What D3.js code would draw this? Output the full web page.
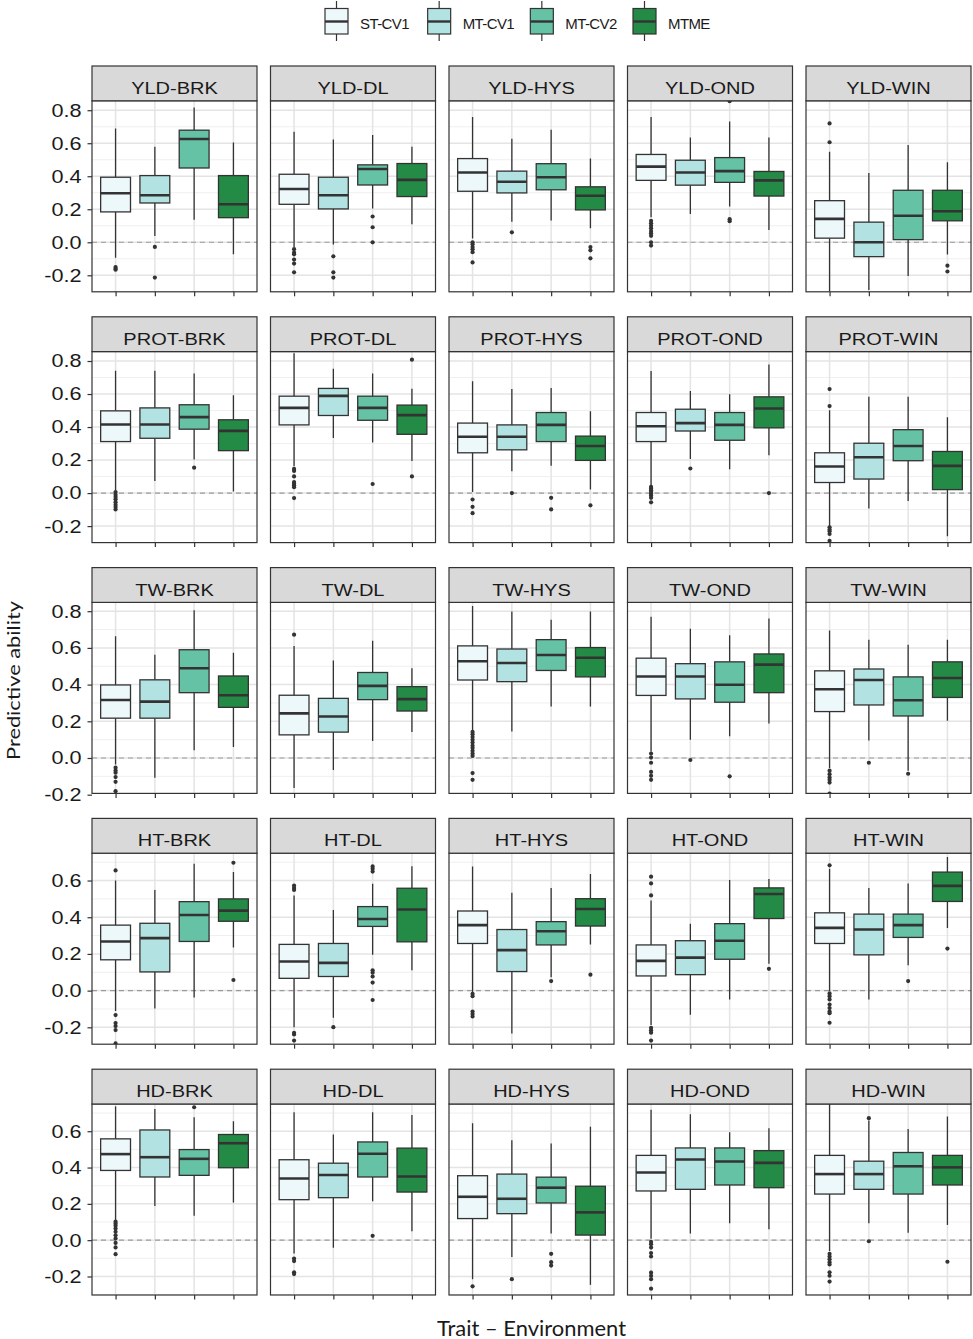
<!DOCTYPE html>
<html><head><meta charset="utf-8">
<script src="https://cdn.jsdelivr.net/npm/d3@7/dist/d3.min.js"></script>
<style>body{margin:0;background:#fff}svg{display:block}</style>
</head><body>
<svg id="chart" width="973" height="1339"></svg>
<script>
// ---------------- DATA ----------------
const traits = ["YLD", "PROT", "TW", "HT", "HD"];
const envs = ["BRK", "DL", "HYS", "OND", "WIN"];
const methods = ["ST-CV1", "MT-CV1", "MT-CV2", "MTME"];
const methodColors = ["#edf8fb", "#b2e2e2", "#66c2a4", "#238b45"];
const yTicksWide = [-0.2, 0.0, 0.2, 0.4, 0.6, 0.8];
const yTicksNarrow = [-0.2, 0.0, 0.2, 0.4, 0.6];
const yLimits = [[-0.30, 0.857], [-0.30, 0.857], [-0.193, 0.848], [-0.292, 0.749], [-0.302, 0.750]];
const xTitle = "Trait \u2013 Environment";
const yTitle = "Predictive ability";

// each: per environment, per method: [lower whisker, Q1, median, Q3, upper whisker]
const yldStats = [
  [[-0.093,0.184,0.297,0.394,0.689],[0.038,0.238,0.285,0.404,0.578],[0.137,0.45,0.626,0.679,0.816],[-0.073,0.149,0.23,0.404,0.604]],
  [[-0.028,0.23,0.323,0.412,0.669],[-0.014,0.202,0.285,0.394,0.622],[0.204,0.347,0.444,0.469,0.65],[0.109,0.277,0.378,0.477,0.578]],
  [[0.023,0.309,0.423,0.507,0.759],[0.124,0.299,0.367,0.431,0.627],[0.132,0.318,0.394,0.476,0.682],[0.085,0.196,0.282,0.336,0.507]],
  [[0.151,0.375,0.458,0.532,0.759],[0.171,0.346,0.423,0.497,0.635],[0.216,0.363,0.431,0.513,0.732],[0.074,0.28,0.375,0.429,0.635]],
  [[-0.297,0.025,0.142,0.252,0.548],[-0.289,-0.087,0.0,0.122,0.419],[-0.204,0.016,0.161,0.315,0.59],[-0.074,0.13,0.188,0.315,0.485]]
];
const yldOutliers = [
  [[-0.15,-0.16,-0.166],[-0.028,-0.214],[],[]],
  [[-0.042,-0.063,-0.073,-0.105,-0.129,-0.182],[-0.085,-0.182,-0.214],[0.156,0.091,0.0],[]],
  [[0.0,-0.012,-0.029,-0.043,-0.06,-0.122],[0.06],[],[-0.029,-0.049,-0.097]],
  [[0.13,0.115,0.1,0.085,0.068,0.054,0.039,0.0,-0.02],[],[0.14,0.128,0.855],[]],
  [[0.72,0.606],[],[],[-0.142,-0.177]]
];
const protStats = [
  [[0.016,0.312,0.415,0.498,0.741],[0.073,0.332,0.415,0.516,0.741],[0.203,0.387,0.46,0.535,0.725],[0.01,0.257,0.377,0.444,0.593]],
  [[0.162,0.413,0.516,0.587,0.847],[0.334,0.47,0.589,0.634,0.753],[0.306,0.441,0.516,0.587,0.725],[0.194,0.356,0.472,0.533,0.632]],
  [[0.006,0.244,0.341,0.424,0.678],[0.132,0.262,0.341,0.413,0.63],[0.165,0.312,0.413,0.488,0.636],[0.021,0.198,0.285,0.345,0.496]],
  [[0.043,0.312,0.405,0.488,0.74],[0.207,0.376,0.424,0.508,0.618],[0.145,0.32,0.413,0.488,0.599],[0.229,0.395,0.512,0.583,0.779]],
  [[-0.2,0.064,0.161,0.244,0.502],[-0.093,0.085,0.217,0.302,0.583],[-0.048,0.196,0.285,0.384,0.583],[-0.262,0.021,0.165,0.252,0.459]]
];
const protOutliers = [
  [[0.006,-0.01,-0.024,-0.038,-0.055,-0.071,-0.085,-0.099],[],[0.154],[]],
  [[0.146,0.134,0.101,0.067,0.057,0.047,0.036,-0.03],[],[0.055],[0.808,0.101]],
  [[-0.039,-0.083,-0.122],[0.0],[-0.029,-0.099],[-0.074]],
  [[0.037,0.027,0.017,0.006,-0.004,-0.014,-0.029,-0.056],[0.149],[],[0.0]],
  [[0.63,0.527,-0.207,-0.221,-0.231,-0.248,-0.289],[],[],[]]
];
const twStats = [
  [[-0.035,0.217,0.316,0.398,0.663],[-0.108,0.217,0.307,0.426,0.563],[0.042,0.356,0.489,0.59,0.805],[0.06,0.276,0.342,0.447,0.574]],
  [[-0.163,0.126,0.243,0.342,0.61],[-0.066,0.141,0.226,0.325,0.532],[0.093,0.318,0.393,0.466,0.639],[0.141,0.256,0.321,0.389,0.489]],
  [[0.15,0.425,0.527,0.611,0.829],[0.145,0.416,0.518,0.594,0.798],[0.281,0.477,0.561,0.645,0.753],[0.281,0.442,0.546,0.602,0.798]],
  [[0.035,0.341,0.444,0.544,0.77],[0.1,0.322,0.444,0.514,0.704],[0.119,0.304,0.399,0.524,0.669],[0.188,0.356,0.509,0.567,0.76]],
  [[-0.055,0.253,0.375,0.475,0.695],[0.095,0.289,0.425,0.485,0.645],[-0.069,0.229,0.315,0.442,0.617],[0.203,0.33,0.436,0.524,0.645]]
];
const twOutliers = [
  [[-0.053,-0.068,-0.08,-0.104,-0.13,-0.181],[],[],[]],
  [[0.672],[],[],[]],
  [[0.142,0.129,0.114,0.099,0.084,0.067,0.054,0.039,0.024,0.011,-0.082,-0.119],[],[],[]],
  [[0.024,0.002,-0.026,-0.076,-0.097,-0.119],[-0.011],[-0.1],[]],
  [[-0.069,-0.088,-0.106,-0.119,-0.134,-0.194],[-0.026],[-0.086],[]]
];
const htStats = [
  [[-0.111,0.168,0.268,0.357,0.6],[-0.097,0.102,0.286,0.367,0.549],[-0.038,0.268,0.412,0.485,0.691],[0.235,0.378,0.436,0.5,0.646]],
  [[-0.199,0.067,0.159,0.252,0.518],[-0.148,0.077,0.151,0.257,0.44],[0.195,0.35,0.39,0.458,0.582],[0.111,0.266,0.442,0.558,0.678]],
  [[-0.011,0.257,0.357,0.434,0.677],[-0.234,0.104,0.221,0.333,0.534],[0.073,0.249,0.324,0.376,0.56],[0.251,0.352,0.445,0.501,0.636]],
  [[-0.188,0.08,0.162,0.249,0.491],[-0.132,0.087,0.18,0.272,0.365],[-0.048,0.171,0.272,0.365,0.603],[0.147,0.393,0.527,0.56,0.608]],
  [[-0.002,0.257,0.342,0.424,0.664],[-0.048,0.195,0.333,0.417,0.56],[0.138,0.29,0.357,0.417,0.584],[0.342,0.486,0.571,0.646,0.728]]
];
const htOutliers = [
  [[0.655,-0.133,-0.177,-0.193,-0.215,-0.288],[],[],[0.697,0.058]],
  [[0.573,0.56,0.549,-0.23,-0.239,-0.272],[-0.199],[0.677,0.664,0.649,0.111,0.098,0.077,0.044,-0.051],[]],
  [[-0.017,-0.03,-0.114,-0.128,-0.141],[],[0.052],[0.087]],
  [[0.621,0.584,0.519,-0.203,-0.216,-0.229,-0.272],[],[],[0.119]],
  [[0.683,-0.015,-0.03,-0.048,-0.076,-0.095,-0.114,-0.123,-0.175],[],[0.052],[0.229]]
];
const hdStats = [
  [[0.11,0.384,0.474,0.558,0.737],[0.188,0.348,0.457,0.607,0.723],[0.134,0.357,0.448,0.499,0.677],[0.207,0.399,0.534,0.582,0.655]],
  [[-0.073,0.223,0.34,0.443,0.704],[-0.042,0.234,0.359,0.424,0.582],[0.214,0.348,0.476,0.541,0.704],[0.049,0.265,0.351,0.507,0.69]],
  [[-0.215,0.119,0.239,0.355,0.644],[-0.093,0.146,0.228,0.364,0.551],[0.037,0.205,0.289,0.347,0.532],[-0.246,0.028,0.153,0.297,0.625]],
  [[0.008,0.271,0.373,0.467,0.719],[0.037,0.28,0.444,0.508,0.694],[0.093,0.304,0.433,0.508,0.594],[0.06,0.289,0.426,0.493,0.616]],
  [[-0.06,0.254,0.364,0.467,0.752],[0.093,0.28,0.364,0.435,0.659],[0.041,0.254,0.407,0.483,0.612],[0.084,0.304,0.401,0.467,0.681]]
];
const hdOutliers = [
  [[0.102,0.091,0.079,0.064,0.046,0.027,0.009,-0.015,-0.04,-0.077],[],[0.732],[]],
  [[-0.101,-0.115,-0.177,-0.187],[],[0.024],[]],
  [[-0.254],[-0.215],[-0.075,-0.121,-0.14],[]],
  [[-0.009,-0.022,-0.041,-0.071,-0.09,-0.179,-0.196,-0.215,-0.267],[],[],[]],
  [[-0.075,-0.09,-0.105,-0.121,-0.134,-0.177,-0.196,-0.228],[0.672,-0.006],[],[-0.119]]
];

// ---------------- LAYOUT ----------------
const statsByTrait = [yldStats, protStats, twStats, htStats, hdStats];
const outliersByTrait = [yldOutliers, protOutliers, twOutliers, htOutliers, hdOutliers];

const LEFT = 92, PW = 165, PSTEP = 178.5;
const TOP = 66, RSTEP = 250.8, SH = 34.8, PH = 191;
const INK = "#333333";
const SANS = "'Liberation Sans', Arial, sans-serif";
const TITLE_FONT = "Lato, 'Open Sans', sans-serif";

const svg = d3.select("#chart");

function stretch(sel, factor) {
  sel.each(function () {
    const len = this.getComputedTextLength();
    d3.select(this).attr("textLength", len * factor).attr("lengthAdjust", "spacingAndGlyphs");
  });
}

const fmt = d => d.toFixed(1);

traits.forEach((trait, r) => {
  const sTop = TOP + r * RSTEP;
  const pTop = sTop + SH;
  const pBot = pTop + PH;
  const y = d3.scaleLinear().domain(yLimits[r]).range([pBot, pTop]);
  const majors = r < 3 ? yTicksWide : yTicksNarrow;
  const minors = [];
  for (let i = 0; i < majors.length - 1; i++) minors.push((majors[i] + majors[i + 1]) / 2);
  minors.push(majors[0] - 0.1, majors[majors.length - 1] + 0.1);
  const visMinors = minors.filter(v => v >= yLimits[r][0] - 1e-9 && v <= yLimits[r][1]);

  envs.forEach((env, c) => {
    const pLeft = LEFT + c * PSTEP;
    const x = d3.scalePoint().domain(methods).range([pLeft, pLeft + PW]).padding(0.6);
    const step = x.step();
    const bw = step * 0.76;
    const g = svg.append("g");
    const clipId = `clip-${r}-${c}`;
    g.append("clipPath").attr("id", clipId).append("rect")
      .attr("x", pLeft).attr("y", pTop).attr("width", PW).attr("height", PH);

    g.append("rect").attr("x", pLeft).attr("y", pTop).attr("width", PW).attr("height", PH).attr("fill", "#fff");
    const grid = g.append("g").attr("clip-path", `url(#${clipId})`);
    grid.selectAll(".minor").data(visMinors).join("line")
      .attr("x1", pLeft).attr("x2", pLeft + PW)
      .attr("y1", d => y(d)).attr("y2", d => y(d))
      .attr("stroke", "#ebebeb").attr("stroke-width", 0.8);
    grid.selectAll(".major").data(majors).join("line")
      .attr("x1", pLeft).attr("x2", pLeft + PW)
      .attr("y1", d => y(d)).attr("y2", d => y(d))
      .attr("stroke", "#e4e4e4").attr("stroke-width", 1.5);
    grid.selectAll(".vmajor").data(methods).join("line")
      .attr("x1", d => x(d)).attr("x2", d => x(d))
      .attr("y1", pTop).attr("y2", pBot)
      .attr("stroke", "#e4e4e4").attr("stroke-width", 1.5);
    grid.append("line").attr("x1", pLeft).attr("x2", pLeft + PW)
      .attr("y1", y(0)).attr("y2", y(0))
      .attr("stroke", "#9a9a9a").attr("stroke-width", 1.1).attr("stroke-dasharray", "5,4");

    const stats = statsByTrait[r][c];
    const outs = outliersByTrait[r][c];
    const marks = grid.append("g");
    methods.forEach((m, k) => {
      const [lo, q1, med, q3, hi] = stats[k];
      const cx = x(m);
      const b = marks.append("g");
      b.append("line").attr("x1", cx).attr("x2", cx).attr("y1", y(hi)).attr("y2", y(q3))
        .attr("stroke", INK).attr("stroke-width", 1.3);
      b.append("line").attr("x1", cx).attr("x2", cx).attr("y1", y(q1)).attr("y2", y(lo))
        .attr("stroke", INK).attr("stroke-width", 1.3);
      b.append("rect").attr("x", cx - bw / 2).attr("width", bw)
        .attr("y", y(q3)).attr("height", y(q1) - y(q3))
        .attr("fill", methodColors[k]).attr("stroke", INK).attr("stroke-width", 1.3);
      b.append("line").attr("x1", cx - bw / 2).attr("x2", cx + bw / 2)
        .attr("y1", y(med)).attr("y2", y(med))
        .attr("stroke", INK).attr("stroke-width", 2.6);
      b.selectAll("circle").data(outs[k]).join("circle")
        .attr("cx", cx).attr("cy", d => y(d)).attr("r", 2.1).attr("fill", INK);
    });

    g.append("rect").attr("x", pLeft).attr("y", pTop).attr("width", PW).attr("height", PH)
      .attr("fill", "none").attr("stroke", INK).attr("stroke-width", 1.2);
    g.append("rect").attr("x", pLeft).attr("y", sTop).attr("width", PW).attr("height", SH)
      .attr("fill", "#d9d9d9").attr("stroke", INK).attr("stroke-width", 1.2);
    const st = g.append("text").attr("x", pLeft + PW / 2).attr("y", sTop + 28)
      .attr("text-anchor", "middle").attr("font-family", SANS).attr("font-size", 16)
      .attr("fill", "#1a1a1a").text(`${trait}-${env}`);
    stretch(st, 1.25);

    const xa = g.append("g").attr("transform", `translate(0,${pBot})`)
      .call(d3.axisBottom(x).tickSize(4.5).tickFormat(""));
    xa.select(".domain").remove();
    xa.selectAll(".tick line").attr("stroke", INK).attr("stroke-width", 1.2);

    if (c === 0) {
      const ya = g.append("g").attr("transform", `translate(${pLeft},0)`)
        .call(d3.axisLeft(y).tickValues(majors).tickSize(4.5).tickPadding(6).tickFormat(fmt));
      ya.select(".domain").remove();
      ya.selectAll(".tick line").attr("stroke", INK).attr("stroke-width", 1.2);
      const tl = ya.selectAll(".tick text").attr("font-family", SANS).attr("font-size", 18.5)
        .attr("fill", "#1a1a1a");
      stretch(tl, 1.17);
    }
  });
});

// axis titles
svg.append("text").attr("transform", `translate(19.5,680.5) rotate(-90)`)
  .attr("text-anchor", "middle").attr("font-family", TITLE_FONT)
  .attr("font-size", 18).attr("fill", "#1a1a1a")
  .attr("textLength", 159).attr("lengthAdjust", "spacingAndGlyphs").text(yTitle);
svg.append("text").attr("x", 531.5).attr("y", 1335.5)
  .attr("text-anchor", "middle").attr("font-family", TITLE_FONT)
  .attr("font-size", 20.5).attr("fill", "#1a1a1a")
  .attr("textLength", 189).attr("lengthAdjust", "spacingAndGlyphs").text(xTitle);

// legend
const legendX = d3.scalePoint().domain(methods).range([325, 633]);
const leg = svg.append("g");
methods.forEach((m, k) => {
  const lx = legendX(m);
  const kw = 23;
  leg.append("line").attr("x1", lx + kw / 2).attr("x2", lx + kw / 2).attr("y1", 1).attr("y2", 41)
    .attr("stroke", INK).attr("stroke-width", 1.2);
  leg.append("rect").attr("x", lx).attr("y", 8.5).attr("width", kw).attr("height", 25.5)
    .attr("fill", methodColors[k]).attr("stroke", INK).attr("stroke-width", 1.2);
  leg.append("line").attr("x1", lx).attr("x2", lx + kw).attr("y1", 21.5).attr("y2", 21.5)
    .attr("stroke", INK).attr("stroke-width", 2.4);
  leg.append("text").attr("x", lx + 35).attr("y", 29)
    .attr("font-family", SANS).attr("font-size", 15).attr("fill", "#1a1a1a")
    .attr("letter-spacing", -0.6).text(m);
});
</script>
</body></html>
